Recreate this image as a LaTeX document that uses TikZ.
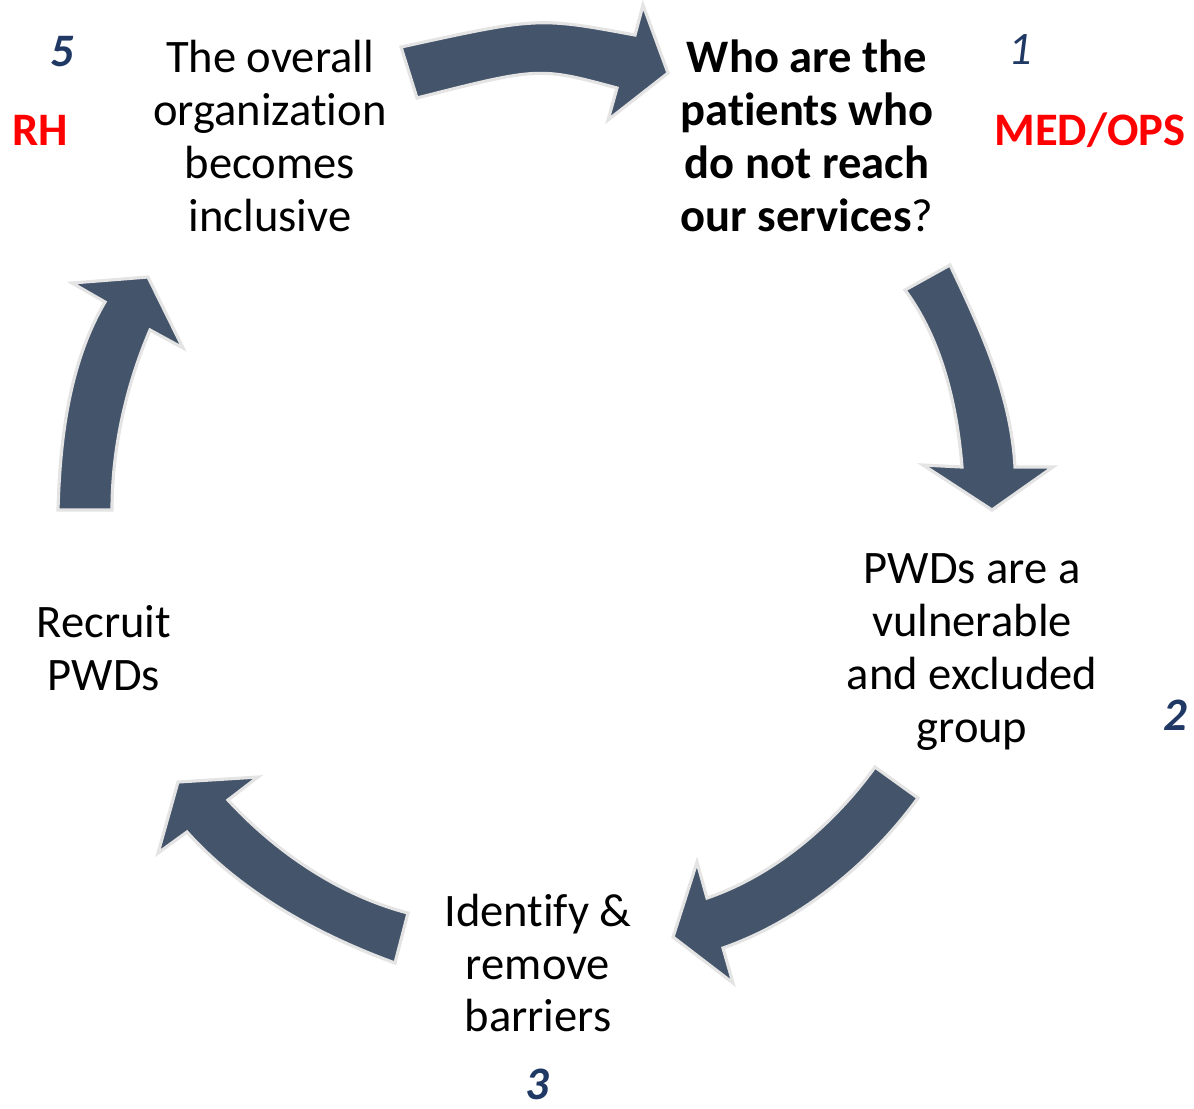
\documentclass[tikz,border=0pt]{standalone}
\usepackage{fontspec}
\setmainfont{Carlito}[RawFeature={-liga;-clig;-calt;-dlig}]
\usetikzlibrary{positioning}
\definecolor{arrowfill}{HTML}{44546A}
\definecolor{arrowrim}{HTML}{E4E4E4}
\definecolor{numblue}{HTML}{1F3864}
\definecolor{teamred}{HTML}{FF0000}
\tikzset{
  bigarrow/.style={fill=arrowfill, draw=arrowrim, line width=0.9pt, line join=miter},
  steptext/.style={align=center, inner sep=0pt, font=\fontsize{13.24}{15.05}\selectfont},
  stepnum/.style={text=numblue, inner sep=0pt, font=\fontsize{13.24}{15.05}\selectfont\bfseries\itshape},
  team/.style={text=teamred, inner sep=0pt, font=\fontsize{13.24}{15.05}\selectfont\bfseries}
}
\begin{document}
\begin{tikzpicture}[x=0.01cm, y=-0.01cm]
\useasboundingbox (0,0) rectangle (1194,1108);
% curved block arrows, clockwise
\draw[bigarrow] (401,47) .. controls (538,17) .. (635,35) -- (643,5) -- (668,73) -- (608,120) -- (617,88) .. controls (539,67) .. (417,98) -- cycle;
\draw[bigarrow] (950,265) .. controls (981,330) and (1011,395) .. (1015,467) -- (1053,467) -- (992,510) -- (923,465) -- (962,467) .. controls (957,405) and (942,340) .. (905,290) -- cycle;
\draw[bigarrow] (918,798) .. controls (870,864) and (800,921) .. (723,948) -- (733,983) -- (673,937) -- (697,862) -- (707,898) .. controls (774,875) and (833,825) .. (875,767) -- cycle;
\draw[bigarrow] (395,963) .. controls (318,935) and (242,893) .. (187,832) -- (158,853) -- (178,782) -- (258,777) -- (228,800) .. controls (276,852) and (339,895) .. (408,913) -- cycle;
\draw[bigarrow] (58,510) .. controls (60,439) and (69,363) .. (105,302) -- (72,283) -- (148,277) -- (183,348) -- (150,330) .. controls (126,386) and (112,449) .. (112,510) -- cycle;
% step texts
\node[steptext] (who) at (807,136) {\textbf{Who are the}\\\textbf{patients who}\\\textbf{do not reach}\\\textbf{our services}?};
\node[steptext] (pwd) at (972,652) {PWDs are a\\vulnerable\\and excluded\\group};
\node[steptext] (barrier) at (538,963) {Identify \&\\remove\\barriers};
\node[steptext] (recruit) at (104,648) {Recruit\\PWDs};
\node[steptext] (org) at (270,136) {The overall\\organization\\becomes\\inclusive};
% numbers and teams
\node[stepnum, font=\fontsize{13.24}{15.05}\selectfont\itshape] (n1) at (1020,50) {1};
\node[stepnum] (n2) at (1175,715) {2};
\node[stepnum] (n3) at (537,1084) {3};
\node[stepnum] (n5) at (62,52) {5};
\node[team] (med) at (1090,130) {MED/OPS};
\node[team] (rh) at (40,130) {RH};
\end{tikzpicture}
\end{document}
